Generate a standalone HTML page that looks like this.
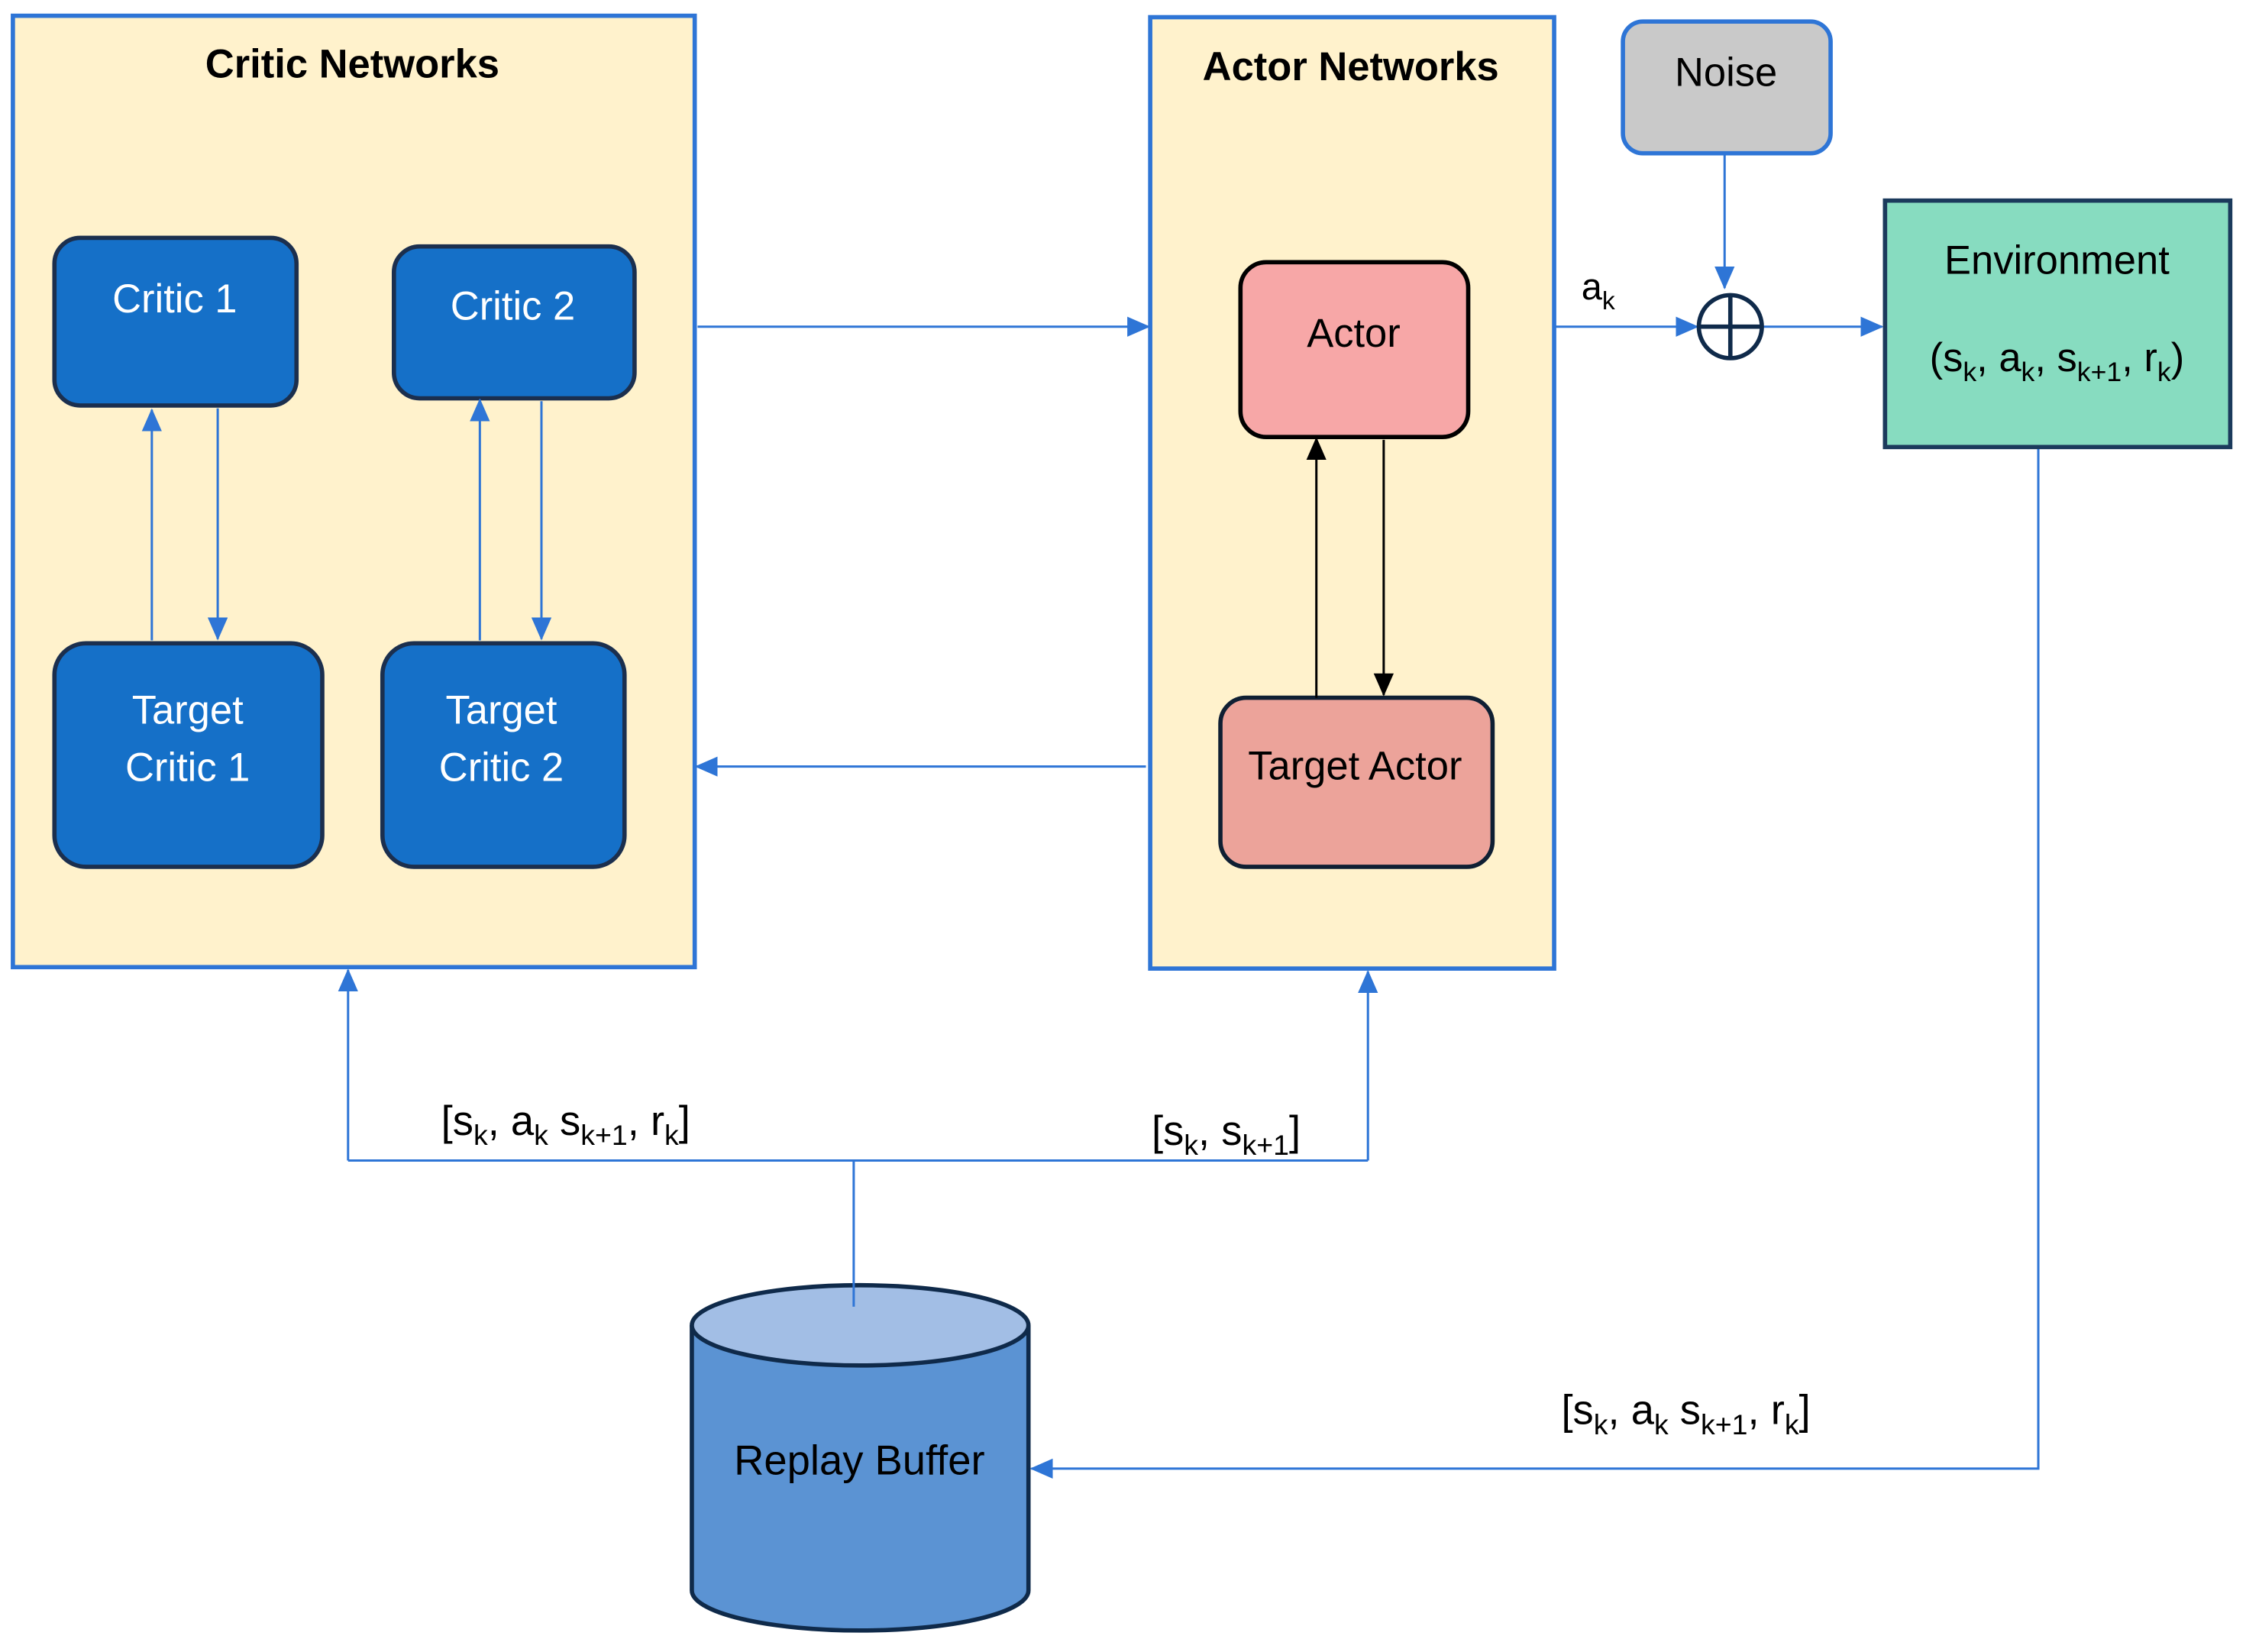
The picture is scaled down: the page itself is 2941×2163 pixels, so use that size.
<!DOCTYPE html>
<html><head><meta charset="utf-8"><style>
html,body{margin:0;padding:0;background:#fff;}
svg{display:block;}
text{font-family:"Liberation Sans",sans-serif;}
</style></head><body>
<svg width="2941" height="2163" viewBox="0 0 1568 1153" preserveAspectRatio="none" xmlns="http://www.w3.org/2000/svg">
<defs>
<marker id="b" markerWidth="16" markerHeight="14" refX="15" refY="7" orient="auto" markerUnits="userSpaceOnUse"><path d="M0,0 L16,7 L0,14 z" fill="#2E75D6"/></marker>
<marker id="k" markerWidth="16" markerHeight="14" refX="15" refY="7" orient="auto" markerUnits="userSpaceOnUse"><path d="M0,0 L16,7 L0,14 z" fill="#000"/></marker>
</defs>
<rect x="9" y="11" width="476" height="664" fill="#FFF2CC" stroke="#2E75D6" stroke-width="3"/>
<text x="246" y="54" font-size="28" font-weight="bold" text-anchor="middle">Critic Networks</text>
<rect x="803" y="12" width="282" height="664" fill="#FFF2CC" stroke="#2E75D6" stroke-width="3"/>
<text x="943" y="56" font-size="28" font-weight="bold" text-anchor="middle">Actor Networks</text>

<g fill="#1570C8" stroke="#1B2F4E" stroke-width="3">
<rect x="38" y="166" width="169" height="117" rx="18"/>
<rect x="275" y="172" width="168" height="106" rx="18"/>
<rect x="38" y="449" width="187" height="156" rx="22"/>
<rect x="267" y="449" width="169" height="156" rx="22"/>
</g>
<g fill="#fff" font-size="28" text-anchor="middle">
<text x="122" y="218">Critic 1</text>
<text x="358" y="223">Critic 2</text>
<text x="131" y="505">Target</text><text x="131" y="545">Critic 1</text>
<text x="350" y="505">Target</text><text x="350" y="545">Critic 2</text>
</g>
<g stroke="#2E75D6" stroke-width="1.6" fill="none" marker-end="url(#b)">
<line x1="106" y1="447" x2="106" y2="286"/>
<line x1="152" y1="285" x2="152" y2="446"/>
<line x1="335" y1="447" x2="335" y2="279"/>
<line x1="378" y1="280" x2="378" y2="446"/>
<line x1="487" y1="228" x2="802" y2="228"/>
<line x1="800" y1="535" x2="486" y2="535"/>
<line x1="1204" y1="108" x2="1204" y2="201"/>
<line x1="1086" y1="228" x2="1185" y2="228"/>
<line x1="1231" y1="228" x2="1314" y2="228"/>
<polyline points="1423,313 1423,1025 720,1025"/>
<polyline points="243,810 243,677"/>
<polyline points="955,810 955,678"/>
</g>
<line x1="243" y1="810" x2="955" y2="810" stroke="#2E75D6" stroke-width="1.6"/>

<rect x="866" y="183" width="159" height="122" rx="18" fill="#F7A7A7" stroke="#000" stroke-width="3"/>
<rect x="852" y="487" width="190" height="118" rx="18" fill="#ECA39A" stroke="#0F1F33" stroke-width="3"/>
<text x="945" y="242" font-size="28" text-anchor="middle">Actor</text>
<text x="946" y="544" font-size="28" text-anchor="middle">Target Actor</text>
<g stroke="#000" stroke-width="1.6" marker-end="url(#k)">
<line x1="919" y1="487" x2="919" y2="306"/>
<line x1="966" y1="307" x2="966" y2="485"/>
</g>

<rect x="1133" y="15" width="145" height="92" rx="14" fill="#C9C9C9" stroke="#2E75D6" stroke-width="3"/>
<text x="1205" y="60" font-size="28" text-anchor="middle">Noise</text>
<circle cx="1208" cy="228" r="22" fill="#fff" stroke="#0F2A4A" stroke-width="3"/>
<line x1="1186" y1="228" x2="1230" y2="228" stroke="#0F2A4A" stroke-width="3"/>
<line x1="1208" y1="206" x2="1208" y2="250" stroke="#0F2A4A" stroke-width="3"/>
<text x="1104" y="209" font-size="26">a<tspan font-size="18" dy="7">k</tspan></text>

<rect x="1316" y="140" width="241" height="172" fill="#87DCC0" stroke="#1B3A5C" stroke-width="3"/>
<text x="1436" y="191" font-size="28" text-anchor="middle">Environment</text>
<text x="1436" y="259" font-size="28" text-anchor="middle">(s<tspan font-size="19" dy="7">k</tspan><tspan dy="-7">, a</tspan><tspan font-size="19" dy="7">k</tspan><tspan dy="-7">, s</tspan><tspan font-size="19" dy="7">k+1</tspan><tspan dy="-7">, r</tspan><tspan font-size="19" dy="7">k</tspan><tspan dy="-7">)</tspan></text>

<path d="M483,925 L483,1110 A117.5,28 0 0 0 718,1110 L718,925" fill="#5B93D3" stroke="#0F2A4A" stroke-width="3"/>
<ellipse cx="600.5" cy="925" rx="117.5" ry="28" fill="#A2BEE5" stroke="#0F2A4A" stroke-width="3"/>
<line x1="596" y1="912" x2="596" y2="810" stroke="#2E75D6" stroke-width="1.6"/>
<text x="600" y="1029" font-size="29" text-anchor="middle">Replay Buffer</text>

<g font-size="29">
<text x="308" y="792">[s<tspan font-size="20" dy="7">k</tspan><tspan dy="-7">, a</tspan><tspan font-size="20" dy="7">k</tspan><tspan dy="-7"> s</tspan><tspan font-size="20" dy="7">k+1</tspan><tspan dy="-7">, r</tspan><tspan font-size="20" dy="7">k</tspan><tspan dy="-7">]</tspan></text>
<text x="804" y="799">[s<tspan font-size="20" dy="7">k</tspan><tspan dy="-7">, s</tspan><tspan font-size="20" dy="7">k+1</tspan><tspan dy="-7">]</tspan></text>
<text x="1090" y="994">[s<tspan font-size="20" dy="7">k</tspan><tspan dy="-7">, a</tspan><tspan font-size="20" dy="7">k</tspan><tspan dy="-7"> s</tspan><tspan font-size="20" dy="7">k+1</tspan><tspan dy="-7">, r</tspan><tspan font-size="20" dy="7">k</tspan><tspan dy="-7">]</tspan></text>
</g>
</svg>
</body></html>
